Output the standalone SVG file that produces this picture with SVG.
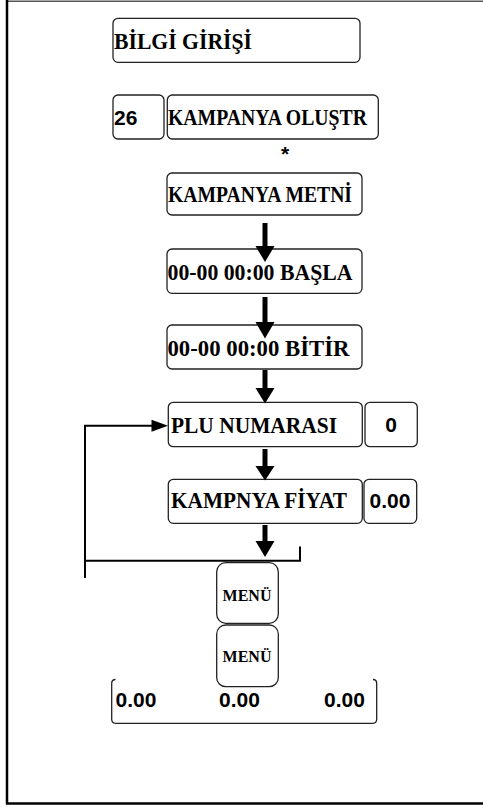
<svg xmlns="http://www.w3.org/2000/svg" width="483" height="807" viewBox="0 0 483 807">
<style>
.box{fill:#fff;stroke:#222;stroke-width:1.3}
.lbl{font-family:"Liberation Serif","Times New Roman",serif;font-weight:bold;font-size:23px;fill:#000}
.num{font-family:"Liberation Sans",Arial,sans-serif;font-weight:bold;font-size:21px;fill:#000}
.menu{font-family:"Liberation Serif","Times New Roman",serif;font-weight:bold;font-size:16px;fill:#000}
.line{fill:none;stroke:#000;stroke-width:2}
.shaft{fill:none;stroke:#000;stroke-width:5}
.head{fill:#000}
</style>
<rect width="483" height="807" fill="#fff"/>
<g id="frame">
<line x1="7" y1="1.2" x2="483" y2="1.2" stroke="#555" stroke-width="1.5"/>
<line x1="7" y1="0" x2="7" y2="804" stroke="#000" stroke-width="2.5"/>
<line x1="6" y1="803.5" x2="483" y2="803.5" stroke="#000" stroke-width="2.5"/>
</g>
<g id="n-bilgi">
<rect class="box" x="113" y="18.3" width="247" height="44" rx="5"/>
<text class="lbl" x="114" y="49" textLength="138" lengthAdjust="spacingAndGlyphs">BİLGİ GİRİŞİ</text>
</g>
<g id="n-26">
<rect class="box" x="113" y="95" width="51" height="44" rx="5"/>
<text class="num" x="114" y="125">26</text>
</g>
<g id="n-kampanya-olustr">
<rect class="box" x="167.3" y="95" width="211" height="44" rx="5"/>
<text class="lbl" x="168" y="125" textLength="199" lengthAdjust="spacingAndGlyphs">KAMPANYA OLUŞTR</text>
</g>
<g id="n-star">
<text class="num" x="285" y="161" text-anchor="middle">*</text>
</g>
<g id="n-metni">
<rect class="box" x="167" y="173" width="195" height="42" rx="5"/>
<text class="lbl" x="168" y="202.3" textLength="184" lengthAdjust="spacingAndGlyphs">KAMPANYA METNİ</text>
</g>
<g id="n-basla">
<rect class="box" x="167" y="249" width="195" height="44.3" rx="5"/>
<text class="lbl" x="167.5" y="280" textLength="185" lengthAdjust="spacingAndGlyphs">00-00 00:00 BAŞLA</text>
</g>
<g id="n-bitir">
<rect class="box" x="167" y="325" width="195" height="44" rx="5"/>
<text class="lbl" x="167.5" y="356" textLength="182" lengthAdjust="spacingAndGlyphs">00-00 00:00 BİTİR</text>
</g>
<g id="n-plu">
<rect class="box" x="168.3" y="402.3" width="194" height="44.4" rx="5"/>
<text class="lbl" x="171" y="432.7" textLength="166" lengthAdjust="spacingAndGlyphs">PLU NUMARASI</text>
</g>
<g id="n-plu-val">
<rect class="box" x="365" y="402.3" width="52.3" height="44.4" rx="5"/>
<text class="num" x="391.2" y="431.7" text-anchor="middle">0</text>
</g>
<g id="n-fiyat">
<rect class="box" x="168.3" y="479.3" width="194" height="44" rx="5"/>
<text class="lbl" x="171" y="508.3" textLength="176" lengthAdjust="spacingAndGlyphs">KAMPNYA FİYAT</text>
</g>
<g id="n-fiyat-val">
<rect class="box" x="364" y="479.3" width="52.7" height="44" rx="5"/>
<text class="num" x="369.5" y="508.3">0.00</text>
</g>
<g id="n-menu1">
<rect class="box" x="216.7" y="562.7" width="61.6" height="60.6" rx="9"/>
<text class="menu" x="247" y="600.7" text-anchor="middle">MENÜ</text>
</g>
<g id="n-menu2">
<rect class="box" x="216.7" y="625" width="61.6" height="61.7" rx="9"/>
<text class="menu" x="247" y="662.3" text-anchor="middle">MENÜ</text>
</g>
<g id="n-display">
<path class="box" d="M115.5,679.5 Q111.7,679.5 111.7,683.5 V719.3 Q111.7,723.3 115.7,723.3 H372.7 Q376.7,723.3 376.7,719.3 V683.5 Q376.7,679.5 373,679.5" style="fill:none"/>
<text class="num" x="115.5" y="707.3">0.00</text>
<text class="num" x="219" y="707.3">0.00</text>
<text class="num" x="324" y="707.3">0.00</text>
</g>
<g id="connectors">
<line class="shaft" x1="265" y1="223" x2="265" y2="247"/>
<polygon class="head" points="255.5,246 274.5,246 265,262"/>
<line class="shaft" x1="265" y1="297" x2="265" y2="323"/>
<polygon class="head" points="255.5,322 274.5,322 265,338.5"/>
<line class="shaft" x1="265" y1="370" x2="265" y2="389"/>
<polygon class="head" points="255.5,388 274.5,388 265,403.5"/>
<line class="shaft" x1="265" y1="449" x2="265" y2="467"/>
<polygon class="head" points="255.5,466 274.5,466 265,480.5"/>
<line class="shaft" x1="265" y1="525" x2="265" y2="542"/>
<polygon class="head" points="255.5,541 274.5,541 265,557"/>
<polyline class="line" points="85,578 85,425.7 152,425.7"/>
<polygon class="head" points="151.5,419.7 151.5,431.7 168,425.7"/>
<polyline class="line" points="85,560.7 300,560.7 300,546.5"/>
</g>
</svg>
